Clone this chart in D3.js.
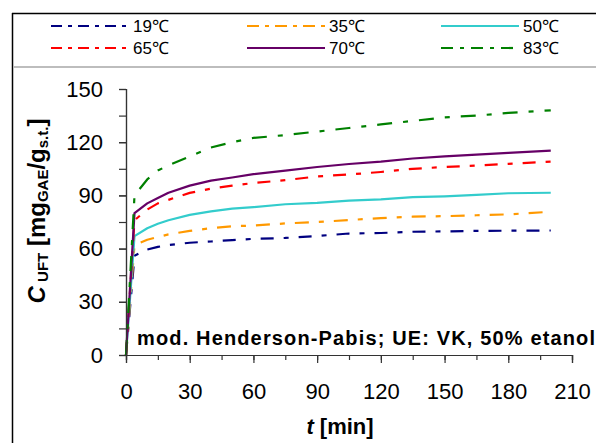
<!DOCTYPE html>
<html><head><meta charset="utf-8">
<script src="https://cdn.jsdelivr.net/npm/d3@7"></script>
<style>
html,body{margin:0;padding:0;background:#fff;}
svg{display:block;}
text{font-family:Arial,"Liberation Sans",sans-serif;}
</style></head>
<body>
<svg id="c" width="596" height="443"></svg>
<script>
// ---- data ----
const times = [0, 4, 10, 15, 20, 30, 40, 50, 60, 75, 90, 105, 120, 135, 150, 165, 180, 200];
const seriesNames = ["19℃", "35℃", "50℃", "65℃", "70℃", "83℃"];
const s19 = [0, 56, 59.5, 61, 62, 63.3, 64, 64.8, 65.5, 66, 67.1, 68.5, 68.8, 69.5, 69.7, 70, 70.1, 70.2];
const s35 = [0, 62, 65, 66.5, 68, 70, 71.5, 72.6, 73, 74.2, 75, 76.1, 77.2, 78, 78.3, 78.8, 79.3, 80.8];
const s50 = [0, 67, 71.5, 74, 76, 79, 81, 82.5, 83.4, 85, 85.8, 87, 87.8, 89, 89.5, 90.3, 91.2, 91.5];
const s65 = [0, 76, 82, 85.5, 87.5, 91.4, 93.8, 95.5, 97, 98.6, 100.7, 101.8, 103.2, 105, 106, 106.8, 107.8, 109];
const s70 = [0, 80, 85.5, 88.5, 91.5, 95.5, 98.3, 100.1, 102, 104, 106, 107.7, 109, 110.8, 112, 113, 114, 115.2];
const s83 = [0, 90, 99, 104, 107, 112, 117, 120, 122.4, 124, 126, 128, 130, 132, 134, 135, 136.5, 138];
const xTicks = [0, 30, 60, 90, 120, 150, 180, 210];
const yTicks = [0, 30, 60, 90, 120, 150];
const annotation = "mod. Henderson-Pabis; UE: VK, 50% etanol";

// ---- styles ----
const colors = ["#000080", "#FF9900", "#33CCCC", "#FF0000", "#660066", "#008000"];
const legDashes = ["11,6,4,6", "12,6,4,6", null, "11,6,4,6", null, "12,7,4,7"];
const plotDashes = ["13,10,5,10", "14,10,5,10", null, "13,10,5,10", null, "15,11,5,11"];
const allSeries = [s19, s35, s50, s65, s70, s83];

const svg = d3.select("#c");

// frame
svg.append("line").attr("x1", 12.5).attr("x2", 12.5).attr("y1", 13).attr("y2", 443)
  .attr("stroke", "#000").attr("stroke-width", 1.5);
svg.append("line").attr("x1", 12).attr("x2", 596).attr("y1", 13.5).attr("y2", 13.5)
  .attr("stroke", "#000").attr("stroke-width", 1.5);
svg.append("line").attr("x1", 13).attr("x2", 596).attr("y1", 67).attr("y2", 67)
  .attr("stroke", "#bdbdbd").attr("stroke-width", 2);

// legend
const legCols = [51, 247, 441];
const legRows = [26, 48];
seriesNames.forEach((n, i) => {
  const cx = legCols[i % 3], cy = legRows[Math.floor(i / 3)];
  svg.append("line").attr("x1", cx).attr("x2", cx + 78).attr("y1", cy).attr("y2", cy)
    .attr("stroke", colors[i]).attr("stroke-width", 2.2)
    .attr("stroke-dasharray", legDashes[i]);
  svg.append("text").attr("x", cx + 82).attr("y", cy + 6).attr("font-size", 17)
    .attr("fill", "#000").text(n);
});

// scales
const x = d3.scaleLinear().domain([0, 210]).range([126, 572]);
const y = d3.scaleLinear().domain([0, 150]).range([355, 89]);

// annotation
svg.append("text").attr("x", 137).attr("y", 345).attr("font-size", 20).attr("font-weight", "bold")
  .attr("textLength", 458).attr("lengthAdjust", "spacing").text(annotation);

// lines
const line = d3.line().x((d, j) => x(times[j])).y(d => y(d));
allSeries.forEach((s, i) => {
  svg.append("path").datum(s).attr("d", line).attr("fill", "none")
    .attr("stroke", colors[i]).attr("stroke-width", 2.2)
    .attr("stroke-dasharray", plotDashes[i]).attr("stroke-linejoin", "round");
});

// axes
const minorX = d3.range(0, 211, 15);
const minorY = d3.range(0, 151, 15);
const gx = svg.append("g").attr("transform", `translate(0,${y(0)})`);
gx.call(d3.axisBottom(x).tickValues(minorX).tickSize(5).tickFormat(""));
gx.call(g => g.append("g").call(d3.axisBottom(x).tickValues(xTicks).tickSize(8).tickFormat(d3.format("d"))));
gx.selectAll("path,line").attr("stroke", "#333").attr("stroke-width", 1.2);
gx.selectAll("text").attr("font-size", 22).attr("fill", "#000").attr("dy", null).attr("y", 44)
  .attr("font-family", "Arial, 'Liberation Sans', sans-serif");

const gy = svg.append("g").attr("transform", `translate(${x(0)},0)`);
gy.call(d3.axisLeft(y).tickValues(minorY).tickSize(7).tickFormat(""));
gy.call(g => g.append("g").call(d3.axisLeft(y).tickValues(yTicks).tickSize(7).tickPadding(16).tickFormat(d3.format("d"))));
gy.selectAll("path,line").attr("stroke", "#333").attr("stroke-width", 1.2);
gy.selectAll("text").attr("font-size", 22).attr("fill", "#000")
  .attr("font-family", "Arial, 'Liberation Sans', sans-serif");

// x title
const xt = svg.append("text").attr("x", 340).attr("y", 434).attr("text-anchor", "middle")
  .attr("font-size", 22).attr("font-weight", "bold");
xt.append("tspan").attr("font-style", "italic").text("t");
xt.append("tspan").text(" [min]");

// y title
const yt = svg.append("text").attr("transform", "translate(45,211) rotate(-90)")
  .attr("text-anchor", "middle").attr("font-weight", "bold").attr("font-size", 24);
yt.append("tspan").attr("font-style", "italic").text("C");
yt.append("tspan").attr("font-size", 15).attr("dy", 3).text(" UFT");
yt.append("tspan").attr("dy", -3).text(" [mg");
yt.append("tspan").attr("font-size", 15).attr("dy", 3).text("GAE");
yt.append("tspan").attr("dy", -3).text("/g");
yt.append("tspan").attr("font-size", 15).attr("dy", 3).text("s.t.");
yt.append("tspan").attr("dy", -3).text("]");
</script>
</body></html>
